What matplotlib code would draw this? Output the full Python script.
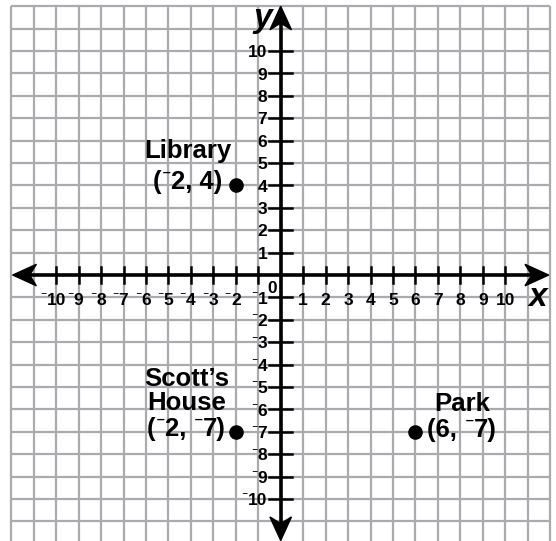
import matplotlib
matplotlib.use("Agg")
import matplotlib.pyplot as plt
from matplotlib.patches import Polygon
from matplotlib.transforms import IdentityTransform

FONT = ["Liberation Sans", "DejaVu Sans"]
MINUS = "\u207b"  # raised minus as printed on the worksheet

# data
x_ticks = list(range(-10, 11))
y_ticks = list(range(-10, 11))
grid_lines = list(range(-12, 13))

place_x = [-2, -2, 6]
place_y = [4, -7, -7]
place_names = [["Library"], ["Scott\u2019s", "House"], ["Park"]]

# label layout: centre x and the centre y of every line
label_x = [-4.15, -4.2, 8.08]
label_ys = [[5.65, 4.26], [-4.53, -5.63, -6.79], [-5.66, -6.82]]


def fmt(v):
    return MINUS + str(abs(v)) if v < 0 else str(v)


fig = plt.figure(figsize=(5.56, 5.41), dpi=100)
ax = fig.add_axes([0, 0, 1, 1])
ax.set_xlim(-12.5, 12.26)
ax.set_ylim(-11.875, 12.28)
ax.axis("off")

grid_col = "#a9abae"
for g in grid_lines:
    ax.plot([g, g], [-12.5, 12], color=grid_col, lw=1.6, zorder=1,
            solid_capstyle="butt")
    ax.plot([-12, 12], [g, g], color=grid_col, lw=1.6, zorder=1,
            solid_capstyle="butt")

# axes with arrowheads
ax.plot([-11.3, 11.3], [0, 0], color="black", lw=2.6, zorder=3)
ax.plot([0, 0], [-11.2, 11.3], color="black", lw=2.6, zorder=3)


def arrow(tip, direction):
    dx, dy = direction
    px, py = -dy, dx
    L, W, N = 1.05, 0.48, 0.3
    bx, by = tip[0] - dx * L, tip[1] - dy * L
    pts = [tip,
           (bx + px * W, by + py * W),
           (tip[0] - dx * (L - N), tip[1] - dy * (L - N)),
           (bx - px * W, by - py * W)]
    ax.add_patch(Polygon(pts, closed=True, color="black", zorder=4))


arrow((11.93, 0), (1, 0))
arrow((-11.93, 0), (-1, 0))
arrow((0, 12.0), (0, 1))
arrow((0, -11.85), (0, -1))

fig.canvas.draw()
renderer = fig.canvas.get_renderer()
px_per_pt = fig.dpi / 72.0
MINUS_SCALE = 0.7
MINUS_LIFT = 0.28


def piece_font(is_minus):
    return ["DejaVu Sans"] if is_minus else FONT


def piece_width(s, fs, is_minus):
    fsz = fs * MINUS_SCALE if is_minus else fs
    t = fig.text(0, 0, s + "|", fontsize=fsz, fontweight="bold",
                 family=piece_font(is_minus))
    w1 = t.get_window_extent(renderer).width
    t.set_text("|")
    w2 = t.get_window_extent(renderer).width
    t.remove()
    return w1 - w2


def split(s):
    parts = []
    buf = ""
    for ch in s:
        if ch == MINUS:
            if buf:
                parts.append((buf, False))
                buf = ""
            parts.append((ch, True))
        else:
            buf += ch
    if buf:
        parts.append((buf, False))
    return parts


def draw_label(x, yc, s, fs, align="center"):
    parts = split(s)
    widths = [piece_width(p, fs, m) for p, m in parts]
    total = sum(widths)
    xp, yp = ax.transData.transform((x, yc))
    if align == "right":
        cur = xp - total
    elif align == "digits" and parts[0][1]:
        cur = xp - (total - widths[0]) / 2 - widths[0]
    else:
        cur = xp - total / 2
    base = yp - 0.716 * fs * px_per_pt / 2
    for (p, m), w in zip(parts, widths):
        fsz = fs * MINUS_SCALE if m else fs
        lift = MINUS_LIFT * fs * px_per_pt if m else 0
        ax.text(cur, base + lift, p, fontsize=fsz, fontweight="bold",
                family=piece_font(m), ha="left", va="baseline",
                transform=IdentityTransform(), zorder=5)
        cur += w


tick_fs = 12.5
for t in x_ticks:
    if t == 0:
        continue
    ax.plot([t, t], [-0.36, 0.36], color="black", lw=1.8, zorder=3)
    if t == -1:
        continue  # shares its spot with the y-axis label -1
    draw_label(t, -1.07, fmt(t), tick_fs, align="digits")

xr = ax.transData.transform((-0.6, 0))[0]
y_lab_x = ax.transData.inverted().transform((xr, 0))[0]
for t in y_ticks:
    if t == 0:
        continue
    ax.plot([-0.5, 0.5], [t, t], color="black", lw=1.8, zorder=3)
    draw_label(y_lab_x, t, fmt(t), tick_fs, align="right")

draw_label(-0.4, -0.52, "0", tick_fs)

ax.text(-0.8, 11.45, "y", fontsize=24, fontweight="bold", style="italic",
        family=FONT, ha="center", va="center", zorder=5)
ax.text(11.47, -1.0, "x", fontsize=24, fontweight="bold", style="italic",
        family=FONT, ha="center", va="center", zorder=5)

# places
ax.plot(place_x, place_y, "o", color="black", markersize=9.5, zorder=6)
for i in range(len(place_x)):
    lines = place_names[i] + ["(%s, %s)" % (fmt(place_x[i]), fmt(place_y[i]))]
    for line, yc in zip(lines, label_ys[i]):
        draw_label(label_x[i], yc, line, 18.5)

fig.savefig("out.png", dpi=100)
